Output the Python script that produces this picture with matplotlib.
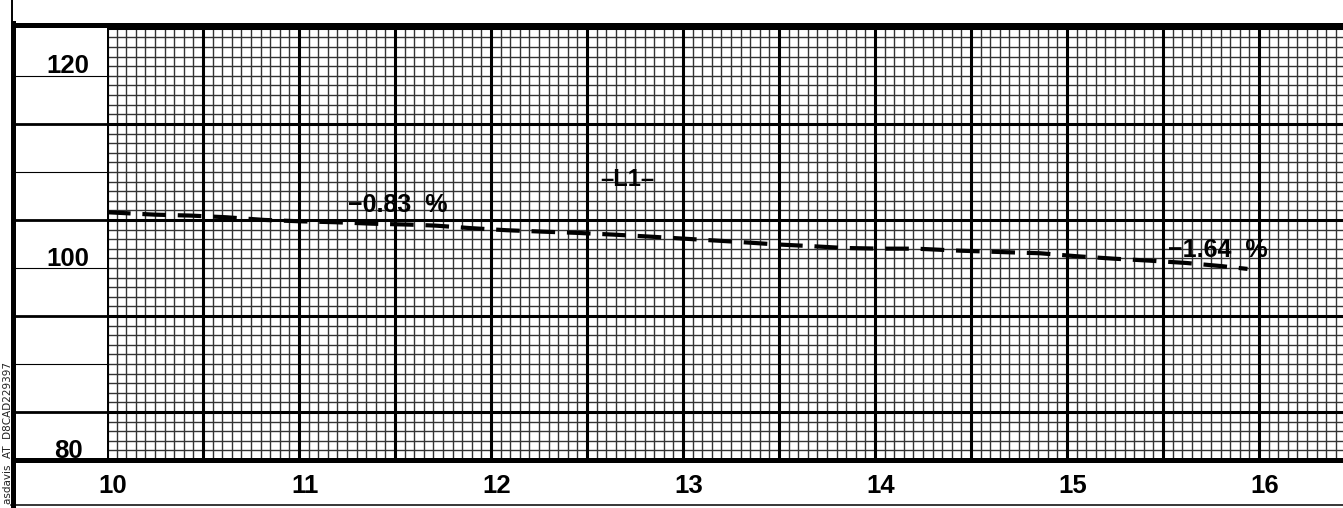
"""
Strip-chart style plot of the L1 trace between t=10 and t=16,
drawn on heavy/fine ruled chart paper with a separate label column.
"""

import matplotlib.pyplot as plt
import matplotlib.transforms as mtransforms
import numpy as np
from matplotlib.lines import Line2D

plt.rcParams["lines.scale_dashes"] = False

W, H, DPI = 1343, 508, 100

# scale
X_MIN, X_MAX = 10.0, 16.4375
Y_MIN, Y_MAX = 80.0, 125.3
X_TICKS = [10, 11, 12, 13, 14, 15, 16]
Y_TICKS = [120, 100, 80]

# recorded trace (L1)
trace_t = [10.00, 10.07, 10.25, 10.44, 10.62, 10.82, 11.00, 11.19, 11.38,
           11.58, 11.71, 11.90, 12.08, 12.27, 12.45, 12.64, 12.83, 13.03,
           13.29, 13.47, 13.65, 13.84, 14.03, 14.21, 14.44, 14.68, 14.86,
           15.05, 15.24, 15.43, 15.62, 15.80, 15.94]
trace_v = [105.80, 105.73, 105.55, 105.45, 105.28, 105.00, 104.86, 104.76, 104.61,
           104.51, 104.41, 104.14, 103.93, 103.78, 103.65, 103.47, 103.26, 103.02,
           102.71, 102.47, 102.29, 102.08, 102.01, 102.01, 101.80, 101.64, 101.53,
           101.22, 100.97, 100.76, 100.52, 100.20, 99.90]

trace_name = "\u2013L1\u2013"
drift_labels = ["\u22120.83  %", "\u22121.64  %"]

FONT = ["Liberation Sans", "DejaVu Sans"]


def px(x, y):
    """pixel position (from top-left) -> figure fraction"""
    return x / W, 1 - y / H


fig = plt.figure(figsize=(W / DPI, H / DPI), dpi=DPI)
fig.patch.set_facecolor("white")

top_px, bot_px = 25, 460
ax = fig.add_axes([107 / W, 1 - bot_px / H, (W - 107) / W, (bot_px - top_px) / H])
ax.set_xlim(X_MIN, X_MAX)
ax.set_ylim(Y_MIN, Y_MAX)
ax.set_xticks([])
ax.set_yticks([])

# chart paper ruling
fine_x = np.arange(0, 130) * 0.05 + X_MIN
fine_y = np.arange(int(Y_MIN), int(Y_MAX) + 1)
for xv in fine_x:
    heavy = abs(xv * 2 - round(xv * 2)) < 1e-6
    ax.axvline(xv, color="black" if heavy else "#333333",
               lw=2.2 if heavy else 1.0, zorder=1 if heavy else 0)
for yv in fine_y:
    heavy = yv % 10 == 5
    ax.axhline(yv, color="black" if heavy else "#333333",
               lw=2.2 if heavy else 1.0, zorder=1 if heavy else 0)

for side in ("top", "bottom"):
    ax.spines[side].set_linewidth(3.6)
ax.spines["left"].set_linewidth(2.2)
ax.spines["right"].set_visible(False)

ax.plot(trace_t, trace_v, color="black", lw=3.0, dashes=(17, 8.5),
        solid_capstyle="butt", dash_capstyle="butt", zorder=3)

ax.text(11.255, 105.83, drift_labels[0], fontsize=18, family=FONT,
        fontweight="bold", ha="left", va="baseline", zorder=4)
ax.text(15.526, 101.15, drift_labels[1], fontsize=18, family=FONT,
        fontweight="bold", ha="left", va="baseline", zorder=4)
ax.text(12.711, 109.17, trace_name, fontsize=17, family=FONT,
        fontweight="bold", ha="center", va="center", zorder=4)

# x labels in the band under the chart
trans = mtransforms.blended_transform_factory(ax.transData, ax.transAxes)
for t in X_TICKS:
    ax.text(t + 0.03, -0.06, str(t), transform=trans, fontsize=18.5,
            family=FONT, fontweight="bold", ha="center", va="center",
            clip_on=False)

# label column on the left
axl = fig.add_axes([14 / W, 1 - bot_px / H, (107 - 14) / W, (bot_px - top_px) / H])
axl.set_xlim(0, 1)
axl.set_ylim(Y_MIN, Y_MAX)
axl.set_xticks([])
axl.set_yticks([])
for yv in range(85, 125, 5):
    heavy = yv % 10 == 5
    axl.axhline(yv, color="black", lw=2.0 if heavy else 0.8)
for side in ("top", "bottom"):
    axl.spines[side].set_linewidth(3.6)
axl.spines["left"].set_visible(False)
axl.spines["right"].set_visible(False)
for v in Y_TICKS:
    axl.text(0.58, v + 0.25, str(v), fontsize=18.5, family=FONT,
             fontweight="bold", ha="center", va="baseline")

# outer border lines
fig.add_artist(Line2D(*zip(px(12.5, 23), px(12.5, 506)), color="black", lw=3.6))
fig.add_artist(Line2D(*zip(px(12, 0), px(12, 24)), color="black", lw=1.4))
fig.add_artist(Line2D(*zip(px(11, 505), px(W, 505)), color="black", lw=1.1))

fig.text(*px(13, 504), "asdavis  AT  D8CAD229397", rotation=90,
         fontsize=7.5, color="#222222", ha="right", va="bottom", zorder=0)

fig.savefig("out.png", dpi=DPI, facecolor="white")
